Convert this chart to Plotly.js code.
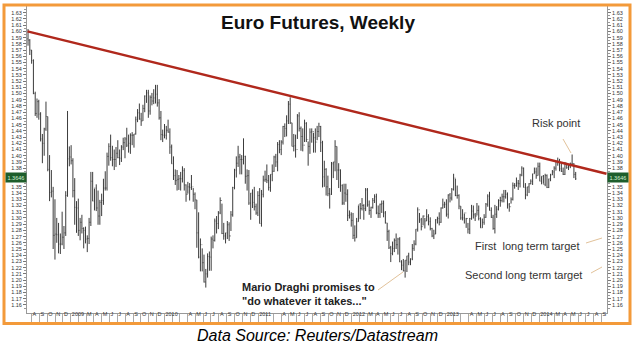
<!DOCTYPE html>
<html>
<head>
<meta charset="utf-8">
<script src="https://cdn.plot.ly/plotly-3.0.1.min.js"></script>
<style>
html,body{margin:0;padding:0;background:#fff;}
#chart{width:637px;height:345px;}
</style>
</head>
<body>
<div id="chart"></div>
<script>
// ---- Weekly Euro futures bars (week ending Fridays, from 2008-07-18) ----
const firstWeekFriday = '2008-07-18';

const weekOpen = [
 1.5880,1.5860,1.5700,1.5530,1.5000,1.4680,1.4870,1.4670,1.4270,1.4200,1.4430,1.4630,1.3780,1.3410,1.3430,1.2720,1.2740,1.2730,1.2580,1.2580,1.2690,1.2760,1.3360,1.3950,1.3980,
 1.3920,1.3440,1.3170,1.3160,1.2800,1.2930,1.2830,1.2800,1.2660,1.2670,1.2930,1.3590,1.3270,1.3480,1.3160,1.3030,1.3250,1.3280,1.3480,1.3480,1.3990,1.4150,1.3970,1.3940,1.3940,1.4040,1.3970,1.3960,1.4140,1.4210,1.4270,1.4170,1.4200,1.4330,1.4330,1.4350,1.4580,1.4690,1.4590,1.4560,1.4760,1.4960,1.5010,1.4720,1.4940,1.4880,1.4930,1.4990,1.4850,1.4610,1.4340,1.4330,
 1.4330,1.4410,1.4380,1.4140,1.3870,1.3680,1.3600,1.3620,1.3630,1.3630,1.3760,1.3530,1.3380,1.3500,1.3490,1.3500,1.3380,1.3290,1.2760,1.2370,1.2570,1.2280,1.1970,1.2100,1.2380,1.2370,1.2660,1.2640,1.2950,1.2910,1.3080,1.3280,1.2750,1.2710,1.2760,1.2890,1.2710,1.3050,1.3490,1.3770,1.3880,1.3980,1.3940,1.3940,1.3990,1.3670,1.3680,1.3240,1.3400,1.3250,1.3180,1.3080,
 1.3360,1.2910,1.3380,1.3610,1.3620,1.3600,1.3490,1.3700,1.3750,1.3980,1.3900,1.4180,1.4100,1.4220,1.4470,1.4440,1.4560,1.4830,1.4530,1.4150,1.4160,1.4100,1.4640,1.4440,1.4310,1.4170,1.4520,1.4260,1.4150,1.4380,1.4390,1.4290,1.4220,1.4390,1.4470,1.4210,1.3660,1.3780,1.3500,1.3390,1.3380,1.3870,1.3900,1.4150,1.3770,1.3770,1.3520,1.3240,1.3400,1.3380,1.3040,1.3050,
 1.2960,1.2720,1.2680,1.2940,1.3210,1.3150,1.3200,1.3150,1.3450,1.3210,1.3120,1.3170,1.3280,1.3340,1.3080,1.3070,1.3220,1.3230,1.3080,1.2920,1.2780,1.2520,1.2430,1.2510,1.2640,1.2570,1.2660,1.2290,1.2240,1.2150,1.2320,1.2390,1.2290,1.2340,1.2510,1.2580,1.2820,1.3130,1.2970,1.2860,1.3030,1.2950,1.3020,1.2940,1.2830,1.2710,1.2740,1.2970,1.2990,1.2930,1.3160,1.3210,1.3220,
 1.3060,1.3370,1.3320,1.3460,1.3640,1.3360,1.3360,1.3190,1.3000,1.3000,1.3080,1.2990,1.2820,1.2990,1.3110,1.3050,1.3030,1.3120,1.2990,1.2840,1.2930,1.3010,1.3220,1.3350,1.3120,1.3010,1.2830,1.3060,1.3140,1.3280,1.3280,1.3340,1.3340,1.3380,1.3210,1.3180,1.3300,1.3520,1.3520,1.3560,1.3550,1.3690,1.3800,1.3490,1.3370,1.3500,1.3550,1.3590,1.3710,1.3740,1.3680,1.3830,
 1.3590,1.3670,1.3540,1.3680,1.3490,1.3630,1.3690,1.3740,1.3800,1.3910,1.3910,1.3790,1.3750,1.3700,1.3880,1.3810,1.3830,1.3870,1.3870,1.3700
];

const weekHigh = [
 1.6038,1.5875,1.5700,1.5550,1.5030,1.4920,1.4900,1.4700,1.4350,1.4450,1.4870,1.4630,1.4010,1.3770,1.3500,1.3300,1.3000,1.2920,1.2750,1.3100,1.2870,1.3430,1.4720,1.4150,1.4170,
 1.3960,1.3640,1.3270,1.3310,1.3000,1.3050,1.2850,1.2860,1.2720,1.3000,1.3740,1.3740,1.3470,1.3540,1.3440,1.3290,1.3390,1.3630,1.3750,1.4050,1.4200,1.4340,1.4160,1.4100,1.4140,1.4250,1.4100,1.4170,1.4290,1.4300,1.4450,1.4340,1.4360,1.4380,1.4350,1.4630,1.4750,1.4840,1.4690,1.4820,1.4970,1.5060,1.5060,1.4970,1.5010,1.5070,1.5140,1.5140,1.4910,1.4720,1.4420,1.4510,
 1.4480,1.4580,1.4440,1.4180,1.3990,1.3780,1.3770,1.3690,1.3740,1.3830,1.3800,1.3540,1.3580,1.3560,1.3690,1.3480,1.3410,1.3290,1.3090,1.2670,1.2510,1.2410,1.2180,1.2430,1.2460,1.2700,1.2720,1.2990,1.3030,1.3110,1.3330,1.3230,1.2920,1.2760,1.2950,1.2930,1.3110,1.3500,1.3790,1.3990,1.4160,1.4030,1.4010,1.4280,1.4000,1.3780,1.3770,1.3400,1.3460,1.3500,1.3230,1.3430,
 1.3480,1.3450,1.3680,1.3760,1.3860,1.3690,1.3700,1.3860,1.4000,1.4030,1.4220,1.4250,1.4250,1.4480,1.4520,1.4650,1.4880,1.4940,1.4530,1.4350,1.4340,1.4670,1.4700,1.4470,1.4440,1.4580,1.4540,1.4230,1.4440,1.4440,1.4370,1.4440,1.4480,1.4530,1.4480,1.4240,1.3920,1.3800,1.3680,1.3480,1.3900,1.3900,1.4250,1.4150,1.3880,1.3780,1.3540,1.3550,1.3550,1.3460,1.3120,1.3090,
 1.3080,1.2880,1.3000,1.3200,1.3240,1.3320,1.3220,1.3480,1.3480,1.3280,1.3180,1.3320,1.3380,1.3390,1.3200,1.3230,1.3280,1.3280,1.3110,1.2920,1.2810,1.2550,1.2620,1.2670,1.2750,1.2680,1.2690,1.2320,1.2340,1.2320,1.2390,1.2440,1.2350,1.2580,1.2640,1.2820,1.3170,1.3080,1.3000,1.3040,1.3000,1.3140,1.3060,1.3010,1.2840,1.2810,1.2980,1.3020,1.3090,1.3170,1.3310,1.3260,1.3300,
 1.3380,1.3400,1.3480,1.3710,1.3630,1.3520,1.3380,1.3190,1.3140,1.3070,1.3000,1.2920,1.3000,1.3210,1.3200,1.3080,1.3240,1.3200,1.3010,1.2990,1.3060,1.3240,1.3380,1.3420,1.3170,1.3050,1.3210,1.3190,1.3300,1.3340,1.3390,1.3450,1.3450,1.3410,1.3240,1.3330,1.3570,1.3560,1.3650,1.3610,1.3710,1.3830,1.3810,1.3560,1.3500,1.3560,1.3620,1.3710,1.3810,1.3810,1.3890,1.3890,
 1.3670,1.3690,1.3710,1.3700,1.3630,1.3710,1.3770,1.3830,1.3910,1.3970,1.3950,1.3880,1.3810,1.3900,1.3880,1.3860,1.3890,1.4020,1.3880,1.3740
];

const weekLow = [
 1.5770,1.5620,1.5480,1.4990,1.4640,1.4610,1.4580,1.4230,1.3880,1.4000,1.4400,1.3750,1.3270,1.3330,1.2500,1.2330,1.2600,1.2430,1.2420,1.2560,1.2500,1.2710,1.3340,1.3830,1.3860,
 1.3330,1.2890,1.2760,1.2710,1.2640,1.2750,1.2510,1.2590,1.2450,1.2580,1.2870,1.3270,1.3120,1.3110,1.2890,1.2890,1.3030,1.3210,1.3440,1.3440,1.3840,1.3920,1.3830,1.3770,1.3820,1.3960,1.3850,1.3900,1.4090,1.3960,1.4140,1.4050,1.4030,1.4170,1.4130,1.4340,1.4540,1.4580,1.4480,1.4560,1.4700,1.4850,1.4610,1.4660,1.4810,1.4830,1.4840,1.4790,1.4580,1.4250,1.4220,1.4280,
 1.4260,1.4370,1.4030,1.3870,1.3610,1.3530,1.3440,1.3450,1.3440,1.3570,1.3440,1.3260,1.3390,1.3280,1.3450,1.3260,1.3140,1.2520,1.2350,1.2140,1.2140,1.1960,1.1880,1.2040,1.2150,1.2150,1.2510,1.2620,1.2750,1.2820,1.3060,1.2740,1.2650,1.2590,1.2660,1.2630,1.2790,1.3020,1.3460,1.3650,1.3820,1.3700,1.3700,1.3860,1.3550,1.3440,1.3210,1.2970,1.3160,1.3120,1.3050,1.3030,
 1.2910,1.2860,1.3330,1.3580,1.3560,1.3440,1.3420,1.3590,1.3740,1.3820,1.3750,1.4040,1.4010,1.4180,1.4300,1.4310,1.4510,1.4510,1.4150,1.4070,1.3970,1.4270,1.4390,1.4080,1.4070,1.4220,1.4220,1.3840,1.4030,1.4210,1.4050,1.4050,1.4250,1.4300,1.4060,1.3490,1.3500,1.3360,1.3350,1.3150,1.3370,1.3640,1.3750,1.3610,1.3480,1.3420,1.3210,1.3210,1.3260,1.2950,1.2990,1.2860,
 1.2660,1.2620,1.2680,1.2940,1.2980,1.3120,1.2970,1.3110,1.3180,1.3050,1.3000,1.3150,1.3240,1.3060,1.3000,1.3000,1.3080,1.3010,1.2910,1.2630,1.2500,1.2290,1.2400,1.2450,1.2500,1.2410,1.2290,1.2160,1.2140,1.2040,1.2130,1.2240,1.2240,1.2320,1.2470,1.2560,1.2780,1.2920,1.2800,1.2880,1.2830,1.2950,1.2880,1.2800,1.2690,1.2660,1.2740,1.2910,1.2880,1.2920,1.3150,1.3160,1.3020,
 1.2990,1.3250,1.3280,1.3440,1.3350,1.3310,1.3140,1.2970,1.2960,1.2910,1.2840,1.2750,1.2740,1.2970,1.2990,1.2950,1.3040,1.2960,1.2840,1.2840,1.2890,1.3000,1.3180,1.3120,1.3000,1.2810,1.2750,1.3000,1.3120,1.3180,1.3250,1.3250,1.3310,1.3150,1.3100,1.3230,1.3280,1.3470,1.3500,1.3450,1.3490,1.3670,1.3490,1.3300,1.3350,1.3400,1.3540,1.3530,1.3710,1.3630,1.3680,1.3590,
 1.3540,1.3550,1.3510,1.3480,1.3480,1.3590,1.3690,1.3640,1.3760,1.3840,1.3750,1.3740,1.3690,1.3690,1.3790,1.3770,1.3800,1.3850,1.3640,1.3610
];

const weekClose = [
 1.5860,1.5700,1.5530,1.5000,1.4680,1.4870,1.4670,1.4270,1.4200,1.4430,1.4630,1.3780,1.3410,1.3430,1.2720,1.2740,1.2730,1.2580,1.2580,1.2690,1.2760,1.3360,1.3950,1.3980,1.3920,
 1.3440,1.3170,1.3160,1.2800,1.2930,1.2830,1.2800,1.2660,1.2670,1.2930,1.3590,1.3270,1.3480,1.3160,1.3030,1.3250,1.3280,1.3480,1.3480,1.3990,1.4150,1.3970,1.3940,1.3940,1.4040,1.3970,1.3960,1.4140,1.4210,1.4270,1.4170,1.4200,1.4330,1.4330,1.4350,1.4580,1.4690,1.4590,1.4560,1.4760,1.4960,1.5010,1.4720,1.4940,1.4880,1.4930,1.4990,1.4850,1.4610,1.4340,1.4330,1.4330,
 1.4410,1.4380,1.4140,1.3870,1.3680,1.3600,1.3620,1.3630,1.3630,1.3760,1.3530,1.3380,1.3500,1.3490,1.3500,1.3380,1.3290,1.2760,1.2370,1.2570,1.2280,1.1970,1.2100,1.2380,1.2370,1.2660,1.2640,1.2950,1.2910,1.3080,1.3280,1.2750,1.2710,1.2760,1.2890,1.2710,1.3050,1.3490,1.3770,1.3880,1.3980,1.3940,1.3940,1.3990,1.3670,1.3680,1.3240,1.3400,1.3250,1.3180,1.3080,1.3360,
 1.2910,1.3380,1.3610,1.3620,1.3600,1.3490,1.3700,1.3750,1.3980,1.3900,1.4180,1.4100,1.4220,1.4470,1.4440,1.4560,1.4830,1.4530,1.4150,1.4160,1.4100,1.4640,1.4440,1.4310,1.4170,1.4520,1.4260,1.4150,1.4380,1.4390,1.4290,1.4220,1.4390,1.4470,1.4210,1.3660,1.3780,1.3500,1.3390,1.3380,1.3870,1.3900,1.4150,1.3770,1.3770,1.3520,1.3240,1.3400,1.3380,1.3040,1.3050,1.2960,
 1.2720,1.2680,1.2940,1.3210,1.3150,1.3200,1.3150,1.3450,1.3210,1.3120,1.3170,1.3280,1.3340,1.3080,1.3070,1.3220,1.3230,1.3080,1.2920,1.2780,1.2520,1.2430,1.2510,1.2640,1.2570,1.2660,1.2290,1.2240,1.2150,1.2320,1.2390,1.2290,1.2340,1.2510,1.2580,1.2820,1.3130,1.2970,1.2860,1.3030,1.2950,1.3020,1.2940,1.2830,1.2710,1.2740,1.2970,1.2990,1.2930,1.3160,1.3210,1.3220,1.3060,
 1.3370,1.3320,1.3460,1.3640,1.3360,1.3360,1.3190,1.3000,1.3000,1.3080,1.2990,1.2820,1.2990,1.3110,1.3050,1.3030,1.3120,1.2990,1.2840,1.2930,1.3010,1.3220,1.3350,1.3120,1.3010,1.2830,1.3060,1.3140,1.3280,1.3280,1.3340,1.3340,1.3380,1.3210,1.3180,1.3300,1.3520,1.3520,1.3560,1.3550,1.3690,1.3800,1.3490,1.3370,1.3500,1.3550,1.3590,1.3710,1.3740,1.3680,1.3830,1.3590,
 1.3670,1.3540,1.3680,1.3490,1.3630,1.3690,1.3740,1.3800,1.3910,1.3910,1.3790,1.3750,1.3700,1.3880,1.3810,1.3830,1.3870,1.3870,1.3700,1.3630
];

// Resistance trend line (start / end)
const trendDates = ['2008-07-16', '2014-09-20'];
const trendValues = [1.600, 1.371];

// Last price flag
const lastPriceLabel = '1.3646';
const lastPriceValue = 1.3650;

// Axis labels (1.36 / 1.37 are covered by the last-price flag in the original)
const yTickValues = [1.16,1.17,1.18,1.19,1.20,1.21,1.22,1.23,1.24,1.25,1.26,1.27,1.28,1.29,1.30,1.31,1.32,1.33,1.34,1.35,1.36,1.37,1.38,1.39,1.40,1.41,1.42,1.43,1.44,1.45,1.46,1.47,1.48,1.49,1.50,1.51,1.52,1.53,1.54,1.55,1.56,1.57,1.58,1.59,1.60,1.61,1.62,1.63];
const yTickLabels = ['1.16','1.17','1.18','1.19','1.20','1.21','1.22','1.23','1.24','1.25','1.26','1.27','1.28','1.29','1.30','1.31','1.32','1.33','1.34','1.35','','','1.38','1.39','1.40','1.41','1.42','1.43','1.44','1.45','1.46','1.47','1.48','1.49','1.50','1.51','1.52','1.53','1.54','1.55','1.56','1.57','1.58','1.59','1.60','1.61','1.62','1.63'];
const firstMonth = '2008-07-01';
const monthLabels = [
 '', 'A','S','O','N','D',
 '2009','','M','A','M','J','J','A','S','O','N','D',
 '2010','','','A','M','J','J','A','S','O','N','D',
 '2011','','','A','M','J','J','A','S','O','N','D',
 '2012','','M','A','M','J','J','A','S','O','N','D',
 '2013','','','A','M','J','J','A','S','O','N','D',
 '2014','','M','A','M','J','J','A','S'
];

// ---- build ----
const DAY = 86400000;
const f0 = Date.parse(firstWeekFriday + 'T00:00:00Z');
const weekDates = weekClose.map((_, i) => new Date(f0 + i * 7 * DAY).toISOString().slice(0, 10));
const m0 = new Date(firstMonth + 'T00:00:00Z');
const monthVals = monthLabels.map((_, i) => new Date(Date.UTC(m0.getUTCFullYear(), m0.getUTCMonth() + i, 1)).toISOString().slice(0, 10));

const FONT = 'Liberation Sans, Arial, Helvetica, sans-serif';
const L = 27, R = 607, T = 6, B = 313;
const px = x => (x - L) / (R - L);
const py = y => (B - y) / (B - T);
const yRange = [1.1471, 1.6408];
const xRange = ['2008-07-14', '2014-09-22'];

const traces = [
  {
    type: 'ohlc', x: weekDates, open: weekOpen, high: weekHigh, low: weekLow, close: weekClose,
    increasing: {line: {color: '#3c3c3c', width: 1}},
    decreasing: {line: {color: '#3c3c3c', width: 1}},
    tickwidth: 0.3, hoverinfo: 'skip', showlegend: false
  },
  {
    type: 'scatter', mode: 'lines', x: trendDates, y: trendValues, yaxis: 'y2',
    line: {color: '#b0281c', width: 2.5}, hoverinfo: 'skip', showlegend: false
  }
];

const yCommon = {
  range: yRange, tickmode: 'array', tickvals: yTickValues, ticktext: yTickLabels,
  ticks: 'outside', ticklen: 3, tickwidth: 1, tickcolor: '#777',
  tickfont: {family: FONT, size: 5.5, color: '#333'},
  showline: true, linecolor: '#999', linewidth: 1, showgrid: false, zeroline: false,
  minor: {tickmode: 'linear', tick0: 1.155, dtick: 0.01, ticks: 'outside', ticklen: 2, tickcolor: '#999'},
  fixedrange: true
};

const leader = (x0, y0, x1, y1) => ({type: 'line', xref: 'paper', yref: 'paper',
  x0: px(x0), y0: py(y0), x1: px(x1), y1: py(y1), line: {color: '#e2c29a', width: 1}});

const layout = {
  width: 637, height: 345,
  margin: {l: L, r: 637 - R, t: T, b: 345 - B, pad: 0},
  paper_bgcolor: '#ffffff', plot_bgcolor: '#ffffff',
  showlegend: false,
  font: {family: FONT, color: '#222'},
  title: {
    text: '<b>Euro Futures, Weekly</b>',
    font: {family: FONT, size: 19, color: '#111'},
    x: 318 / 637, xref: 'container', xanchor: 'center',
    y: 1 - 22 / 345, yref: 'container', yanchor: 'middle'
  },
  xaxis: {
    type: 'date', range: xRange, rangeslider: {visible: false},
    tickmode: 'array', tickvals: monthVals, ticktext: monthLabels,
    ticks: 'outside', ticklen: 9, tickwidth: 1, tickcolor: '#aaa',
    ticklabelposition: 'outside right', ticklabelstandoff: -5,
    tickfont: {family: FONT, size: 5.5, color: '#333'}, tickangle: 0,
    showline: true, linecolor: '#999', linewidth: 1, showgrid: false, zeroline: false,
    fixedrange: true
  },
  yaxis: Object.assign({}, yCommon, {side: 'left'}),
  yaxis2: Object.assign({}, yCommon, {side: 'right', overlaying: 'y'}),
  shapes: [
    {type: 'rect', xref: 'paper', yref: 'paper', x0: px(4), x1: px(630), y0: py(323.5), y1: py(5),
     line: {color: '#f39a3a', width: 3}, fillcolor: 'rgba(0,0,0,0)'},
    leader(563, 139, 571, 153),
    leader(586, 243, 602, 238),
    leader(591, 273, 602, 267),
    leader(378, 290, 403, 272)
  ],
  annotations: [
    {text: 'Risk point', xref: 'paper', yref: 'paper', x: px(556), y: py(123), xanchor: 'center', yanchor: 'middle',
     showarrow: false, font: {family: FONT, size: 11, color: '#333'}},
    {text: 'First  long term target', xref: 'paper', yref: 'paper', x: px(582), y: py(246), xanchor: 'right', yanchor: 'middle',
     showarrow: false, font: {family: FONT, size: 11, color: '#333'}},
    {text: 'Second long term target', xref: 'paper', yref: 'paper', x: px(584), y: py(275), xanchor: 'right', yanchor: 'middle',
     showarrow: false, font: {family: FONT, size: 11, color: '#333'}},
    {text: '<b>Mario Draghi promises to<br>"do whatever it takes..."</b>', xref: 'paper', yref: 'paper',
     x: px(240), y: py(294), xanchor: 'left', yanchor: 'middle', align: 'left',
     showarrow: false, font: {family: FONT, size: 11, color: '#222'}},
    {text: lastPriceLabel, xref: 'paper', yref: 'y', x: 0, y: lastPriceValue, xanchor: 'right', yanchor: 'middle',
     showarrow: false, bgcolor: '#1e5e2c', borderpad: 1.5, font: {family: FONT, size: 5.5, color: '#d6f2d6'}},
    {text: lastPriceLabel, xref: 'paper', yref: 'y', x: 1, y: lastPriceValue, xanchor: 'left', yanchor: 'middle',
     showarrow: false, bgcolor: '#1e5e2c', borderpad: 1.5, font: {family: FONT, size: 5.5, color: '#d6f2d6'}},
    {text: '<i>Data Source: Reuters/Datastream</i>', xref: 'paper', yref: 'paper', x: px(318), y: py(335),
     xanchor: 'center', yanchor: 'middle', showarrow: false, font: {family: FONT, size: 16, color: '#000'}}
  ]
};

Plotly.newPlot('chart', traces, layout, {staticPlot: true, displayModeBar: false});
</script>
</body>
</html>
